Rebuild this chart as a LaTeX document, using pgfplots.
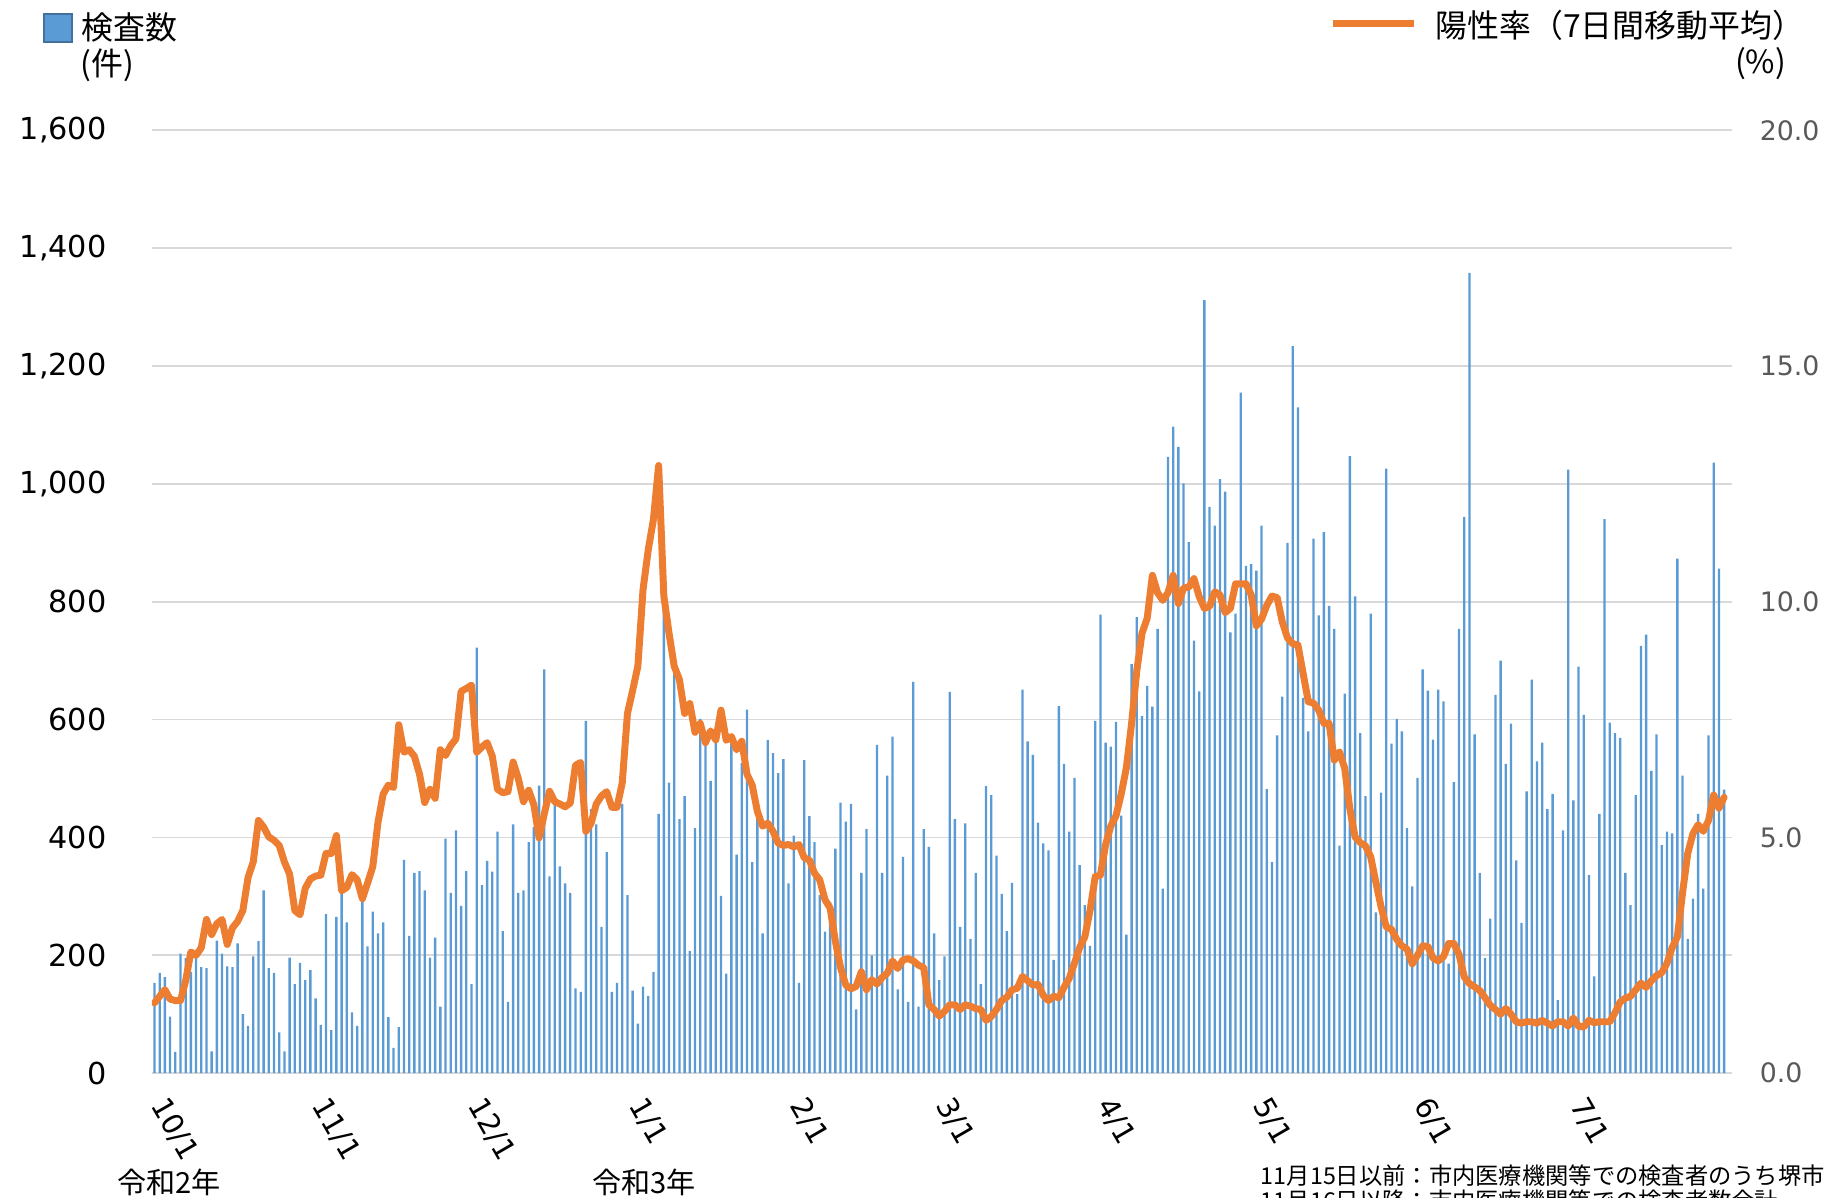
\documentclass[border=0pt]{standalone}
\usepackage{fontspec}
\setmainfont{DejaVu Sans}
\newfontfamily\jp{Noto Sans CJK JP}
\usepackage{pgfplots}
\pgfplotsset{compat=1.18}
\definecolor{barblue}{RGB}{91,155,213}
\definecolor{baredge}{RGB}{65,113,156}
\definecolor{lineorange}{RGB}{237,125,49}
\definecolor{gridgray}{RGB}{217,217,217}
\definecolor{labgray}{RGB}{89,89,89}
\begin{document}
\begin{tikzpicture}
\path[use as bounding box] (0,0) rectangle (784pt,514.5pt);
\clip (0,0) rectangle (784pt,514.5pt);
\begin{axis}[
  at={(65.25pt,53.5pt)}, anchor=south west,
  scale only axis, width=678.75pt, height=405pt,
  xmin=-0.5, xmax=303.5, ymin=0, ymax=1600,
  axis line style={draw=none},
  tick style={draw=none},
  ymajorgrids, major grid style={draw=gridgray, line width=0.75pt},
  ytick={0,200,400,600,800,1000,1200,1400,1600},
  yticklabels={0,200,400,600,800,{1,000},{1,200},{1,400},{1,600}},
  yticklabel style={font=\fontsize{13}{15}\selectfont, anchor=east, xshift=-16pt},
  xtick={0,31,61,92,123,151,182,212,243,273},
  xticklabels={10/1,11/1,12/1,1/1,2/1,3/1,4/1,5/1,6/1,7/1},
  xticklabel style={font=\fontsize{12.5}{15}\selectfont, rotate=-60, anchor=west},
  xticklabel shift=9pt,
  clip=false,
]
\addplot[ybar, bar width=1pt, fill=barblue, draw=none] coordinates {
(0,153) (1,170) (2,163) (3,96) (4,36) (5,203) (6,195) (7,172) (8,198) (9,180) (10,178) (11,37) (12,225) (13,203) (14,181) (15,180) (16,220) (17,100) (18,80) (19,198) (20,224) (21,310) (22,178) (23,170) (24,69) (25,37) (26,196) (27,151) (28,187) (29,158) (30,175) (31,127) (32,82) (33,270) (34,73) (35,265) (36,306) (37,256) (38,103) (39,80)
(40,313) (41,215) (42,274) (43,237) (44,256) (45,95) (46,43) (47,78) (48,362) (49,233) (50,340) (51,343) (52,310) (53,196) (54,230) (55,113) (56,398) (57,306) (58,412) (59,284) (60,343) (61,151) (62,722) (63,319) (64,360) (65,342) (66,410) (67,241) (68,121) (69,422) (70,306) (71,310) (72,392) (73,418) (74,488) (75,685) (76,334) (77,455) (78,351) (79,322) (80,306)
(81,144) (82,138) (83,598) (84,448) (85,422) (86,248) (87,375) (88,138) (89,153) (90,457) (91,302) (92,140) (93,84) (94,147) (95,131) (96,172) (97,440) (98,791) (99,493) (100,683) (101,431) (102,470) (103,207) (104,416) (105,601) (106,567) (107,496) (108,567) (109,301) (110,169) (111,575) (112,371) (113,526) (114,617) (115,358) (116,440) (117,237) (118,565) (119,543) (120,509)
(121,533) (122,322) (123,403) (124,153) (125,531) (126,436) (127,392) (128,302) (129,240) (130,290) (131,381) (132,459) (133,427) (134,457) (135,108) (136,340) (137,414) (138,200) (139,557) (140,340) (141,505) (142,571) (143,142) (144,367) (145,121) (146,664) (147,113) (148,414) (149,384) (150,237) (151,158) (152,198) (153,647) (154,431) (155,248) (156,424) (157,228) (158,340) (159,151) (160,487) (161,472)
(162,369) (163,304) (164,241) (165,323) (166,134) (167,651) (168,563) (169,540) (170,425) (171,390) (172,378) (173,192) (174,623) (175,525) (176,410) (177,501) (178,353) (179,285) (180,216) (181,598) (182,778) (183,561) (184,554) (185,596) (186,437) (187,235) (188,694) (189,774) (190,606) (191,657) (192,622) (193,754) (194,313) (195,1046) (196,1097) (197,1063) (198,1001) (199,901) (200,734) (201,648)
(202,1312) (203,961) (204,929) (205,1008) (206,987) (207,748) (208,780) (209,1155) (210,861) (211,864) (212,853) (213,929) (214,482) (215,358) (216,573) (217,639) (218,900) (219,1234) (220,1130) (221,637) (222,580) (223,907) (224,777) (225,918) (226,793) (227,754) (228,386) (229,644) (230,1047) (231,809) (232,577) (233,470) (234,780) (235,273) (236,476) (237,1026) (238,559) (239,601) (240,580) (241,416)
(242,317) (243,501) (244,685) (245,649) (246,566) (247,651) (248,631) (249,186) (250,494) (251,754) (252,944) (253,1358) (254,575) (255,340) (256,195) (257,262) (258,642) (259,700) (260,525) (261,593) (262,361) (263,255) (264,478) (265,668) (266,529) (267,561) (268,448) (269,474) (270,124) (271,412) (272,1024) (273,463) (274,690)
(275,608) (276,336) (277,164) (278,440) (279,940) (280,595) (281,577) (282,569) (283,340) (284,285) (285,472) (286,725) (287,744) (288,513) (289,575) (290,387) (291,410) (292,407) (293,873) (294,505) (295,228) (296,296) (297,440) (298,313) (299,573) (300,1036) (301,856) (302,481)
};
\end{axis}
\begin{axis}[
  at={(65.25pt,53.5pt)}, anchor=south west,
  scale only axis, width=678.75pt, height=405pt,
  xmin=-0.5, xmax=303.5, ymin=0, ymax=20,
  axis x line=none, axis y line*=right,
  axis line style={draw=none},
  tick style={draw=none},
  ytick={0,5,10,15,20},
  yticklabels={0.0,5.0,10.0,15.0,20.0},
  yticklabel style={font=\fontsize{11.5}{14}\selectfont, text=labgray, anchor=west, xshift=8.5pt},
]
\addplot[lineorange, line width=3pt, line join=round, line cap=round, mark=none] coordinates {
(0,1.49) (1,1.63) (2,1.77) (3,1.57) (4,1.54) (5,1.54) (6,1.96) (7,2.57) (8,2.50) (9,2.66) (10,3.26) (11,2.94) (12,3.17) (13,3.26) (14,2.73) (15,3.08) (16,3.22) (17,3.45) (18,4.15) (19,4.48) (20,5.36) (21,5.22) (22,5.01) (23,4.94) (24,4.83) (25,4.48) (26,4.22) (27,3.45) (28,3.36) (29,3.92) (30,4.12) (31,4.18) (32,4.20) (33,4.66) (34,4.66) (35,5.04) (36,3.87) (37,3.94) (38,4.21) (39,4.10)
(40,3.70) (41,4.03) (42,4.38) (43,5.32) (44,5.92) (45,6.11) (46,6.06) (47,7.39) (48,6.81) (49,6.86) (50,6.72) (51,6.34) (52,5.74) (53,6.02) (54,5.83) (55,6.86) (56,6.74) (57,6.95) (58,7.09) (59,8.10) (60,8.16) (61,8.23) (62,6.81) (63,6.92) (64,7.01) (65,6.72) (66,6.02) (67,5.95) (68,5.97) (69,6.60) (70,6.25) (71,5.76) (72,6.00) (73,5.69) (74,4.99) (75,5.50) (76,5.98) (77,5.76) (78,5.71) (79,5.65) (80,5.73)
(81,6.53) (82,6.59) (83,5.13) (84,5.30) (85,5.71) (86,5.88) (87,5.97) (88,5.64) (89,5.64) (90,6.16) (91,7.63) (92,8.12) (93,8.63) (94,10.26) (95,11.10) (96,11.75) (97,12.89) (98,10.12) (99,9.33) (100,8.63) (101,8.35) (102,7.63) (103,7.84) (104,7.23) (105,7.42) (106,7.01) (107,7.26) (108,7.07) (109,7.70) (110,7.06) (111,7.14) (112,6.86) (113,7.04) (114,6.34) (115,6.11) (116,5.55) (117,5.24) (118,5.30) (119,5.13) (120,4.88)
(121,4.83) (122,4.85) (123,4.80) (124,4.85) (125,4.57) (126,4.52) (127,4.24) (128,4.10) (129,3.68) (130,3.50) (131,2.80) (132,2.24) (133,1.87) (134,1.79) (135,1.84) (136,2.15) (137,1.77) (138,1.98) (139,1.89) (140,2.03) (141,2.12) (142,2.38) (143,2.22) (144,2.40) (145,2.43) (146,2.38) (147,2.29) (148,2.24) (149,1.45) (150,1.35) (151,1.21) (152,1.31) (153,1.45) (154,1.45) (155,1.35) (156,1.45) (157,1.42) (158,1.37) (159,1.35) (160,1.12) (161,1.20)
(162,1.35) (163,1.54) (164,1.61) (165,1.77) (166,1.80) (167,2.05) (168,1.96) (169,1.87) (170,1.88) (171,1.65) (172,1.54) (173,1.63) (174,1.60) (175,1.82) (176,2.01) (177,2.33) (178,2.66) (179,2.89) (180,3.45) (181,4.17) (182,4.20) (183,4.85) (184,5.24) (185,5.46) (186,5.92) (187,6.48) (188,7.42) (189,8.54) (190,9.33) (191,9.65) (192,10.56) (193,10.19) (194,10.03) (195,10.19) (196,10.56) (197,9.96) (198,10.29) (199,10.31) (200,10.49) (201,10.11)
(202,9.86) (203,9.90) (204,10.21) (205,10.15) (206,9.77) (207,9.86) (208,10.38) (209,10.38) (210,10.38) (211,10.15) (212,9.49) (213,9.63) (214,9.92) (215,10.12) (216,10.09) (217,9.57) (218,9.23) (219,9.11) (220,9.08) (221,8.48) (222,7.88) (223,7.85) (224,7.70) (225,7.42) (226,7.42) (227,6.64) (228,6.81) (229,6.47) (230,5.60) (231,5.01) (232,4.89) (233,4.82) (234,4.59) (235,4.05) (236,3.53) (237,3.10) (238,3.05) (239,2.84) (240,2.70) (241,2.63)
(242,2.32) (243,2.50) (244,2.70) (245,2.69) (246,2.44) (247,2.38) (248,2.47) (249,2.75) (250,2.75) (251,2.52) (252,2.04) (253,1.90) (254,1.83) (255,1.75) (256,1.60) (257,1.44) (258,1.35) (259,1.25) (260,1.37) (261,1.25) (262,1.09) (263,1.06) (264,1.09) (265,1.09) (266,1.06) (267,1.12) (268,1.06) (269,1.00) (270,1.09) (271,1.09) (272,1.00) (273,1.17) (274,0.99)
(275,0.98) (276,1.12) (277,1.07) (278,1.09) (279,1.09) (280,1.09) (281,1.28) (282,1.51) (283,1.59) (284,1.63) (285,1.77) (286,1.91) (287,1.82) (288,1.96) (289,2.07) (290,2.13) (291,2.33) (292,2.66) (293,2.89) (294,3.82) (295,4.66) (296,5.08) (297,5.27) (298,5.13) (299,5.36) (300,5.90) (301,5.62) (302,5.85)
};
\end{axis}
% legends
\fill[barblue, draw=baredge, line width=0.8pt] (19pt,496.5pt) rectangle (31pt,508.5pt);
\node[anchor=west, inner sep=0pt, font=\jp\fontsize{13.7}{16}\selectfont] at (35pt,502.5pt) {検査数};
\node[anchor=west, inner sep=0pt, font=\jp\fontsize{13.7}{16}\selectfont] at (34.5pt,486.5pt) {(件)};
\draw[lineorange, line width=3pt] (572.5pt,504.5pt) -- (607.5pt,504.5pt);
\node[anchor=west, inner sep=0pt, font=\jp\fontsize{13.7}{16}\selectfont] at (616.5pt,503.5pt) {陽性率（7日間移動平均）};
\node[anchor=east, inner sep=0pt, font=\jp\fontsize{13.7}{16}\selectfont] at (767.5pt,487pt) {(\%)};
% year labels
\node[inner sep=0pt, font=\jp\fontsize{12.5}{15}\selectfont] at (72.75pt,6.5pt) {令和2年};
\node[inner sep=0pt, font=\jp\fontsize{12.5}{15}\selectfont] at (276.75pt,6.5pt) {令和3年};
% note
\node[anchor=west, inner sep=0pt, font=\jp\fontsize{10}{12}\selectfont] at (541.5pt,9.5pt) {11月15日以前：市内医療機関等での検査者のうち堺市民の検査数};
\node[anchor=west, inner sep=0pt, font=\jp\fontsize{10}{12}\selectfont] at (541.5pt,-1.5pt) {11月16日以降：市内医療機関等での検査者数合計};
\end{tikzpicture}
\end{document}
